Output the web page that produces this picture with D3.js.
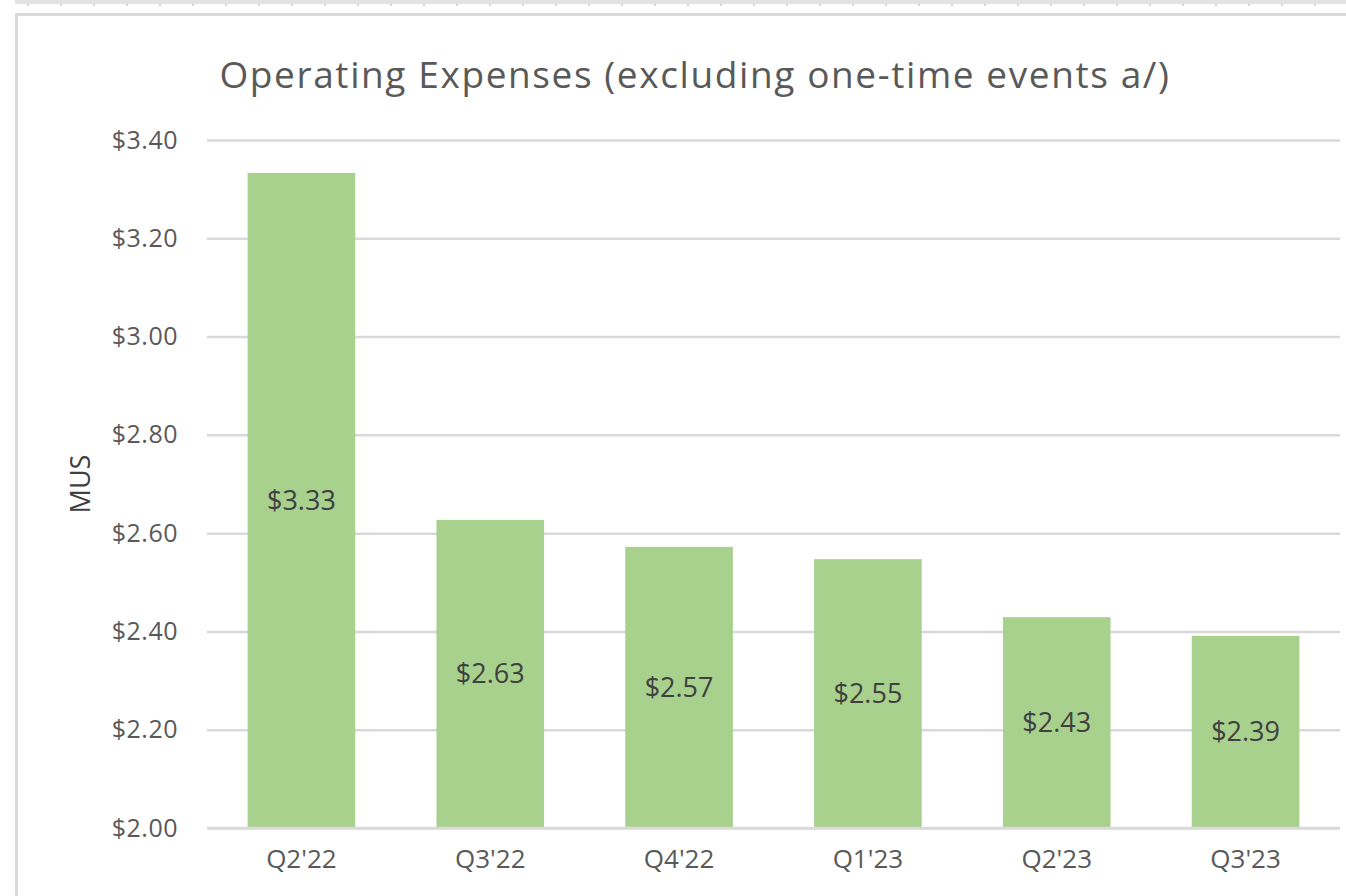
<!DOCTYPE html>
<html>
<head>
<meta charset="utf-8">
<script src="https://cdn.jsdelivr.net/npm/d3@7"></script>
<style>
  body { margin: 0; background: #fff; }
  text { font-family: "Open Sans", sans-serif; }
</style>
</head>
<body>
<div id="chart-area"></div>
<script>
// data
var quarters = ["Q2'22", "Q3'22", "Q4'22", "Q1'23", "Q2'23", "Q3'23"];
var expenses = [3.333, 2.627, 2.572, 2.547, 2.429, 2.391];
var valueLabels = ["$3.33", "$2.63", "$2.57", "$2.55", "$2.43", "$2.39"];
var yTicks = [2.0, 2.2, 2.4, 2.6, 2.8, 3.0, 3.2, 3.4];

var W = 1346, H = 896;
var margin = {top: 140, right: 6, bottom: 68, left: 207};
var width = W - margin.left - margin.right;
var height = H - margin.top - margin.bottom;

var svg = d3.select("#chart-area").append("svg")
            .attr("width", W)
            .attr("height", H);

// spreadsheet strip above the chart
svg.append("rect")
   .attr("x", 15).attr("y", 0)
   .attr("width", W - 15).attr("height", 4)
   .attr("fill", "#e3e3e3");
svg.selectAll(".strip-tick")
   .data(d3.range(27, W, 33))
   .enter().append("rect")
   .attr("class", "strip-tick")
   .attr("x", (d) => d).attr("y", 4)
   .attr("width", 2).attr("height", 2)
   .attr("fill", "#d6d6d6");

// chart frame (cut on the right and bottom)
svg.append("path")
   .attr("d", "M16.5," + H + "V14.5H" + W)
   .attr("fill", "none")
   .attr("stroke", "#d9d9d9")
   .attr("stroke-width", 3);

var g = svg.append("g")
           .attr("transform", "translate(" + margin.left + ", " + margin.top + ")");

var x = d3.scaleBand()
          .domain(quarters)
          .range([0, width])
          .paddingInner(0.43)
          .paddingOuter(0.215);

var y = d3.scaleLinear()
          .domain([2.0, 3.4])
          .range([height, 0]);

// gridlines
g.append("g")
  .attr("class", "grid")
  .call(d3.axisLeft(y).tickValues(yTicks).tickSize(-width).tickFormat(""))
  .call((s) => s.select(".domain").remove())
  .selectAll("line")
  .attr("stroke", "#d9d9d9")
  .attr("stroke-width", 2.5);

// y axis labels
var yAxisGroup = g.append("g")
  .call(d3.axisLeft(y).tickValues(yTicks).tickSize(0).tickPadding(29)
          .tickFormat((d) => "$" + d3.format(".2f")(d)));
yAxisGroup.select(".domain").remove();
yAxisGroup.selectAll("text")
  .attr("font-size", "25px")
  .attr("font-family", "Open Sans")
  .attr("letter-spacing", "0.5px")
  .attr("fill", "#595959");

// bars
g.selectAll("rect.bar")
  .data(expenses)
  .enter().append("rect")
  .attr("class", "bar")
  .attr("x", (d, i) => x(quarters[i]))
  .attr("y", (d) => y(d))
  .attr("width", x.bandwidth())
  .attr("height", (d) => height - y(d))
  .attr("fill", "#a9d18e");

// redraw baseline on top of bars
g.append("line")
  .attr("x1", 0).attr("x2", width)
  .attr("y1", y(2.0)).attr("y2", y(2.0))
  .attr("stroke", "#d9d9d9")
  .attr("stroke-width", 2.5);

// value labels, centred in each bar
g.selectAll("text.value")
  .data(expenses)
  .enter().append("text")
  .attr("class", "value")
  .attr("x", (d, i) => x(quarters[i]) + x.bandwidth() / 2)
  .attr("y", (d) => (y(d) + height) / 2)
  .attr("dy", "0.35em")
  .attr("text-anchor", "middle")
  .attr("font-size", "27px")
  .attr("fill", "#404040")
  .text((d, i) => valueLabels[i]);

// x axis labels
var xAxisGroup = g.append("g")
  .attr("transform", "translate(0, " + height + ")")
  .call(d3.axisBottom(x).tickSize(0).tickPadding(22));
xAxisGroup.select(".domain").remove();
xAxisGroup.selectAll("text")
  .attr("font-size", "26px")
  .attr("font-family", "Open Sans")
  .attr("fill", "#595959");

// y axis title
g.append("text")
  .attr("transform", "rotate(-90)")
  .attr("x", -(y(2.7)))
  .attr("y", -117)
  .attr("text-anchor", "middle")
  .attr("font-size", "27px")
  .attr("fill", "#404040")
  .text("MUS");

// chart title
svg.append("text")
  .attr("x", 695)
  .attr("y", 88)
  .attr("text-anchor", "middle")
  .attr("font-size", "37px")
  .attr("letter-spacing", "1.6px")
  .attr("fill", "#595959")
  .text("Operating Expenses (excluding one-time events a/)");
</script>
</body>
</html>
